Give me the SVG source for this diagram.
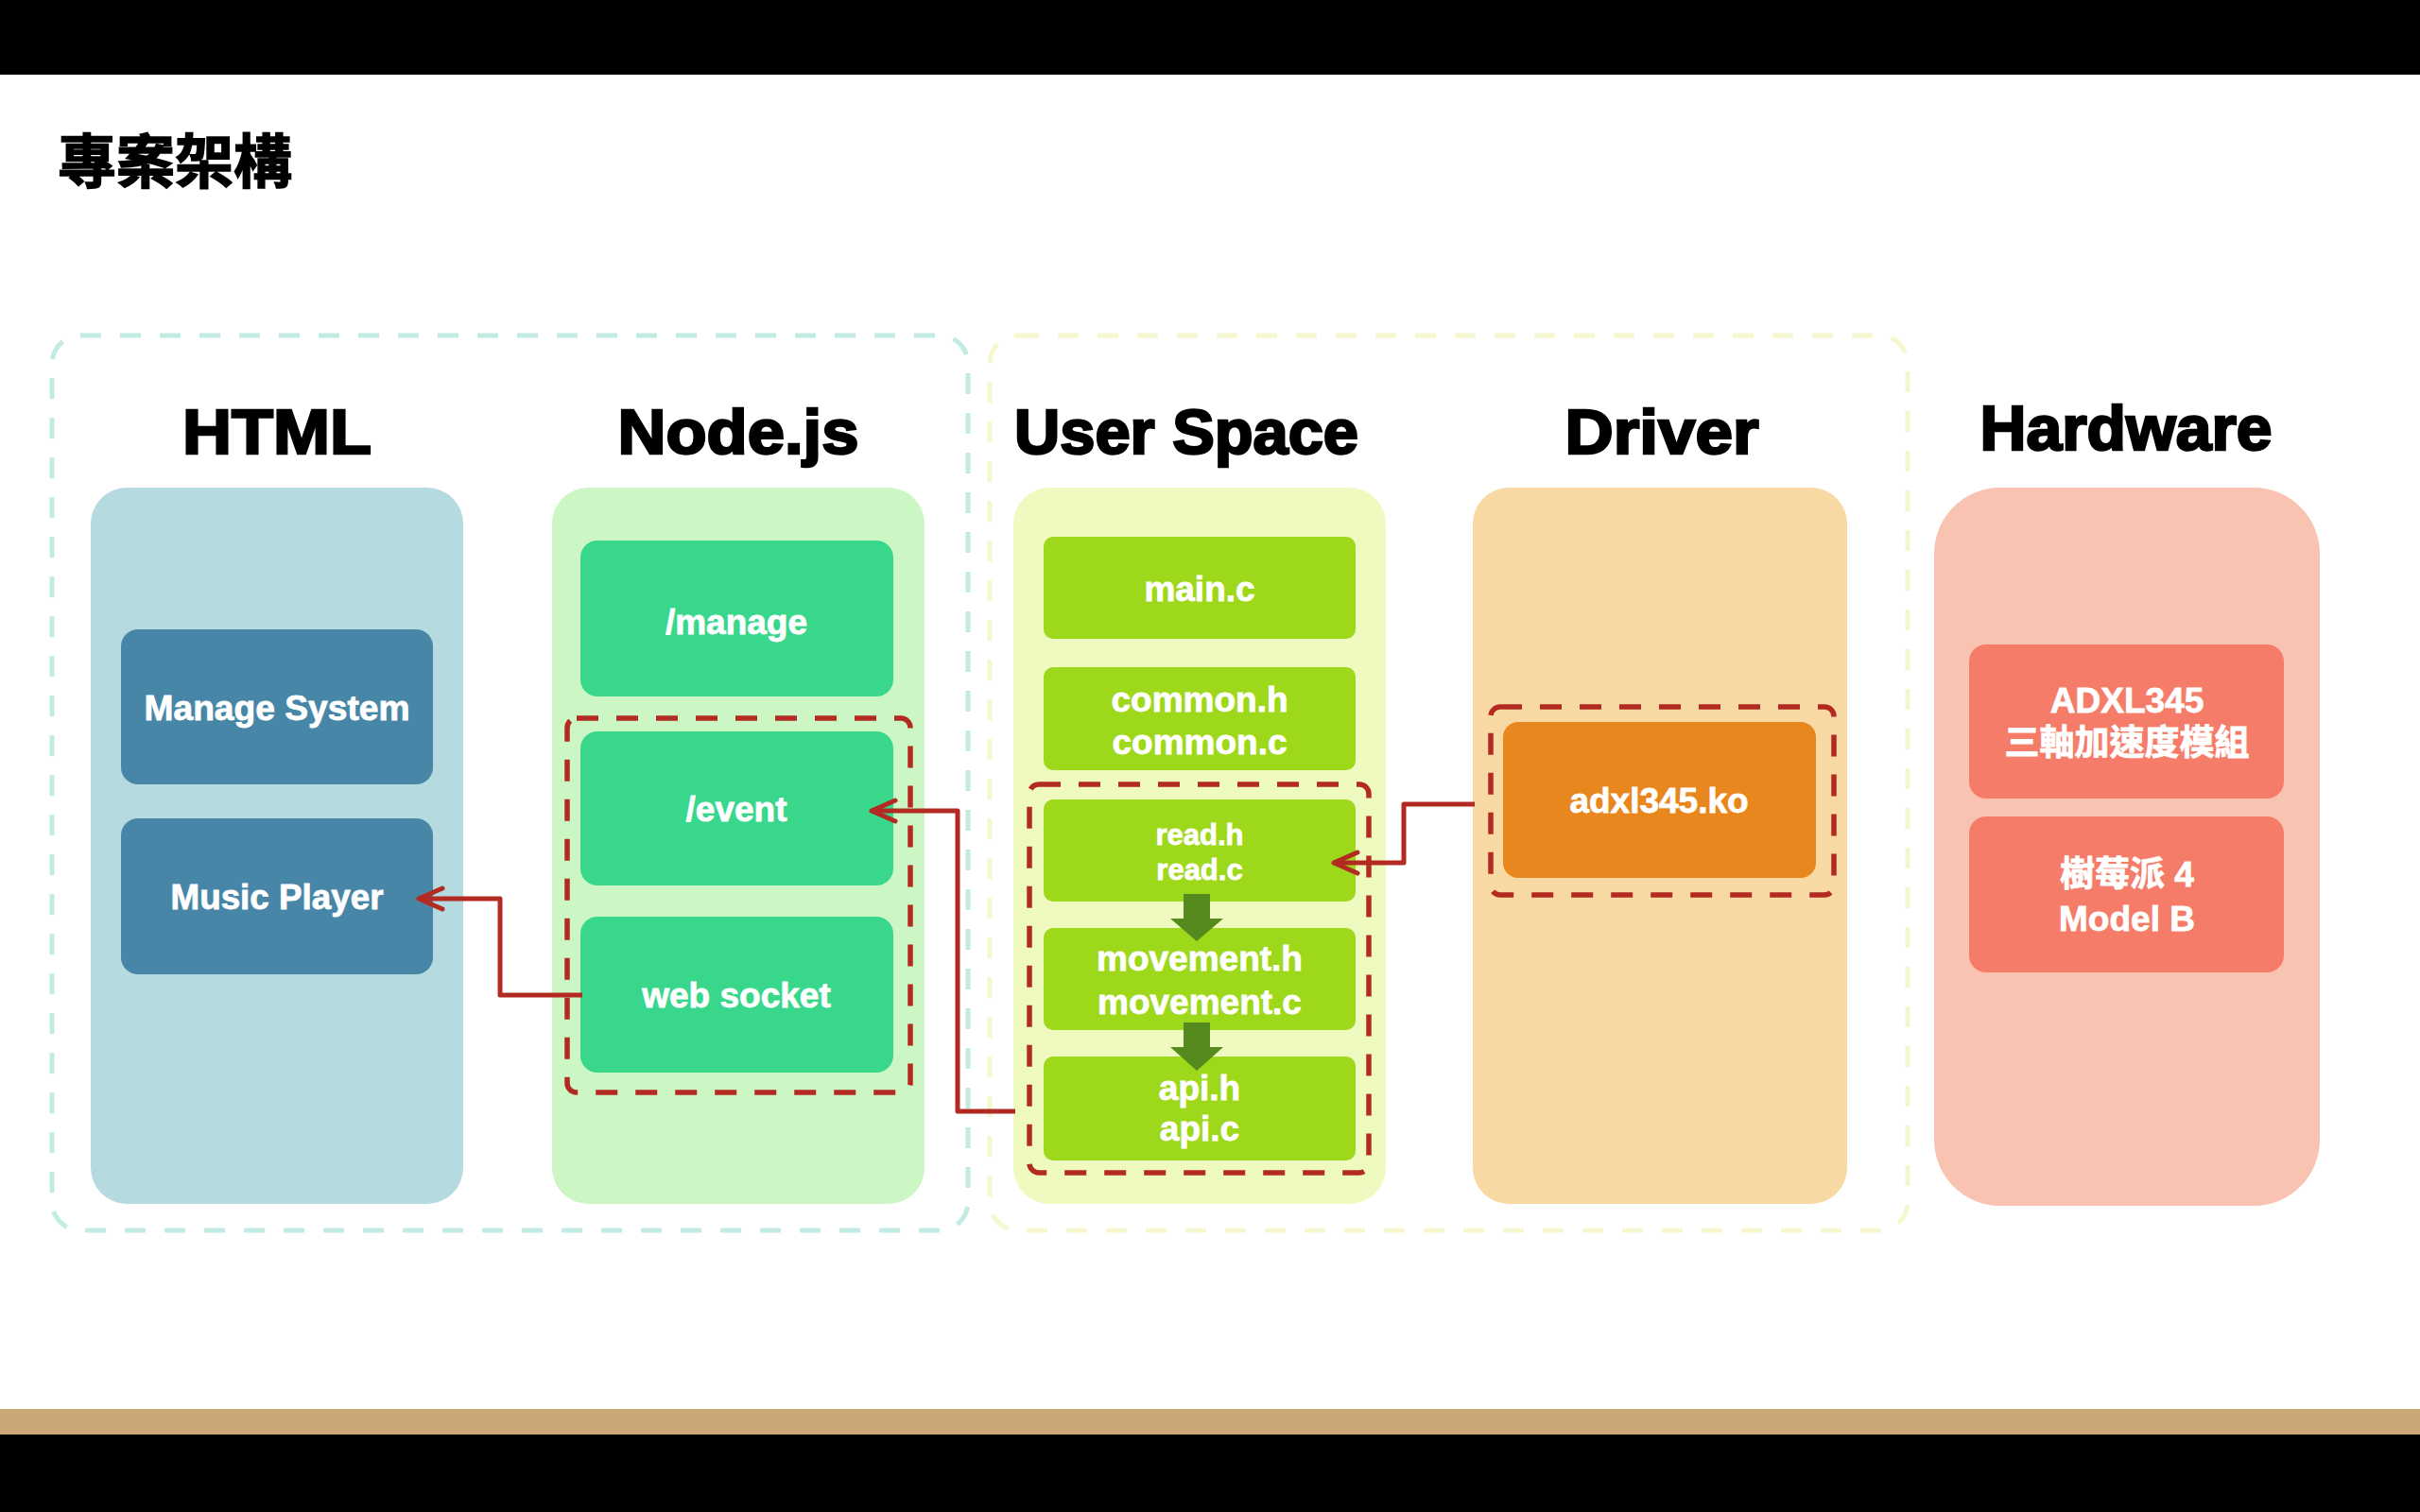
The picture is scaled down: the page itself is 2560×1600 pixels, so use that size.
<svg xmlns="http://www.w3.org/2000/svg" width="2560" height="1600" viewBox="0 0 2560 1600">
<defs>
<style>
.bar{fill:#000}
.title{font-family:"Liberation Sans","Noto Sans CJK TC",sans-serif;font-weight:bold;font-size:62px;fill:#000;stroke:#000;stroke-width:1.5}
.head{font-family:"Liberation Sans",sans-serif;font-weight:bold;font-size:66px;fill:#000;stroke:#000;stroke-width:2.5;text-anchor:middle}
.lbl{font-family:"Liberation Sans","Noto Sans CJK TC",sans-serif;font-weight:bold;font-size:37px;fill:#fff;stroke:#fff;stroke-width:0.8;text-anchor:middle}
.sm{font-size:31px}
.group-teal{fill:none;stroke:#c2ebe4;stroke-width:5;stroke-dasharray:22 20}
.group-yellow{fill:none;stroke:#f6f7cf;stroke-width:5;stroke-dasharray:22 20}
.redbox{fill:none;stroke:#b22a21;stroke-width:5.5;stroke-dasharray:23 19}
.conn{fill:none;stroke:#b22a21;stroke-width:5;stroke-linejoin:round}
.flow{fill:#548a1e}
</style>
<marker id="chev" markerUnits="userSpaceOnUse" orient="auto" refX="0" refY="0" markerWidth="40" markerHeight="40" viewBox="-30 -20 40 40" overflow="visible">
<path d="M -25 -11 L 0 0 L -25 11" fill="none" stroke="#b22a21" stroke-width="5" stroke-linecap="round" stroke-linejoin="round"/>
</marker>
</defs>
<rect width="2560" height="1600" fill="#fff"/>
<rect class="bar" x="0" y="0" width="2560" height="79"/>
<rect x="0" y="1491" width="2560" height="27" fill="#cba677"/>
<rect class="bar" x="0" y="1518" width="2560" height="82"/>
<text class="title" x="61" y="194">專案架構</text>

<rect class="group-teal" x="55" y="355" width="969" height="947" rx="30"/>
<rect class="group-yellow" x="1047" y="355" width="971" height="947" rx="30"/>

<text class="head" x="293" y="480" textLength="200" lengthAdjust="spacingAndGlyphs">HTML</text>
<text class="head" x="781" y="480" textLength="255" lengthAdjust="spacingAndGlyphs">Node.js</text>
<text class="head" x="1255" y="480" textLength="364" lengthAdjust="spacingAndGlyphs">User Space</text>
<text class="head" x="1758" y="480" textLength="205" lengthAdjust="spacingAndGlyphs">Driver</text>
<text class="head" x="2249" y="476" font-size="60" textLength="309" lengthAdjust="spacingAndGlyphs">Hardware</text>

<g id="col-html">
<rect x="96" y="516" width="394" height="758" rx="38" fill="#b5dbe0"/>
</g>
<g id="col-node">
<rect x="584" y="516" width="394" height="758" rx="38" fill="#ccf7c4"/>
</g>
<g id="col-user">
<rect x="1072" y="516" width="394" height="758" rx="38" fill="#eefac0"/>
</g>
<g id="col-driver">
<rect x="1558" y="516" width="396" height="758" rx="38" fill="#f8d9a3"/>
</g>
<g id="col-hardware">
<rect x="2046" y="516" width="408" height="760" rx="70" fill="#f8c3b1"/>
</g>

<g id="manage-system">
<rect x="128" y="666" width="330" height="164" rx="18" fill="#4886a8"/>
<text class="lbl" x="293" y="762" font-size="38" textLength="281" lengthAdjust="spacingAndGlyphs">Manage System</text>
</g>
<g id="music-player">
<rect x="128" y="866" width="330" height="165" rx="18" fill="#4886a8"/>
<text class="lbl" x="293" y="962" font-size="38" textLength="225" lengthAdjust="spacingAndGlyphs">Music Player</text>
</g>

<g id="manage">
<rect x="614" y="572" width="331" height="165" rx="18" fill="#38d78b"/>
<text class="lbl" x="779" y="671">/manage</text>
</g>
<g id="event">
<rect x="614" y="774" width="331" height="163" rx="18" fill="#38d78b"/>
<text class="lbl" x="779" y="869">/event</text>
</g>
<g id="web-socket">
<rect x="614" y="970" width="331" height="165" rx="18" fill="#38d78b"/>
<text class="lbl" x="779" y="1066">web socket</text>
</g>
<rect class="redbox" x="600" y="760" width="363" height="396" rx="10"/>

<g id="main-c">
<rect x="1104" y="568" width="330" height="108" rx="10" fill="#9ed81a"/>
<text class="lbl" x="1269" y="636">main.c</text>
</g>
<g id="common">
<rect x="1104" y="706" width="330" height="109" rx="10" fill="#9ed81a"/>
<text class="lbl" x="1269" y="753">common.h</text>
<text class="lbl" x="1269" y="798">common.c</text>
</g>
<g id="read">
<rect x="1104" y="846" width="330" height="108" rx="10" fill="#9ed81a"/>
<text class="lbl sm" x="1269" y="894">read.h</text>
<text class="lbl sm" x="1269" y="931">read.c</text>
</g>
<g id="movement">
<rect x="1104" y="982" width="330" height="108" rx="10" fill="#9ed81a"/>
<text class="lbl" x="1269" y="1027">movement.h</text>
<text class="lbl" x="1269" y="1073">movement.c</text>
</g>
<g id="api">
<rect x="1104" y="1118" width="330" height="110" rx="10" fill="#9ed81a"/>
<text class="lbl" x="1269" y="1164">api.h</text>
<text class="lbl" x="1269" y="1207">api.c</text>
</g>
<rect class="redbox" x="1089" y="830" width="359" height="411" rx="10"/>

<g id="adxl345-ko">
<rect x="1590" y="764" width="331" height="165" rx="16" fill="#e8871e"/>
<text class="lbl" x="1755" y="860">adxl345.ko</text>
</g>
<rect class="redbox" x="1577" y="748" width="363" height="199" rx="10"/>

<g id="adxl345-module">
<rect x="2083" y="682" width="333" height="163" rx="18" fill="#f57c69"/>
<text class="lbl" x="2250" y="754">ADXL345</text>
<text class="lbl" x="2250" y="799">三軸加速度模組</text>
</g>
<g id="raspberry-pi">
<rect x="2083" y="864" width="333" height="165" rx="18" fill="#f57c69"/>
<text class="lbl" x="2250" y="938">樹莓派 4</text>
<text class="lbl" x="2250" y="985">Model B</text>
</g>

<g id="connectors">
<path class="conn" d="M 616 1053 H 529 V 951 H 443" marker-end="url(#chev)"/>
<path class="conn" d="M 1074 1176 H 1013 V 858 H 922" marker-end="url(#chev)"/>
<path class="conn" d="M 1560 851 H 1485 V 913 H 1411" marker-end="url(#chev)"/>
<polygon class="flow" points="1252,946 1280,946 1280,972 1294,972 1266,996 1238,972 1252,972"/>
<polygon class="flow" points="1252,1082 1280,1082 1280,1108 1294,1108 1266,1133 1238,1108 1252,1108"/>
</g>
</svg>
